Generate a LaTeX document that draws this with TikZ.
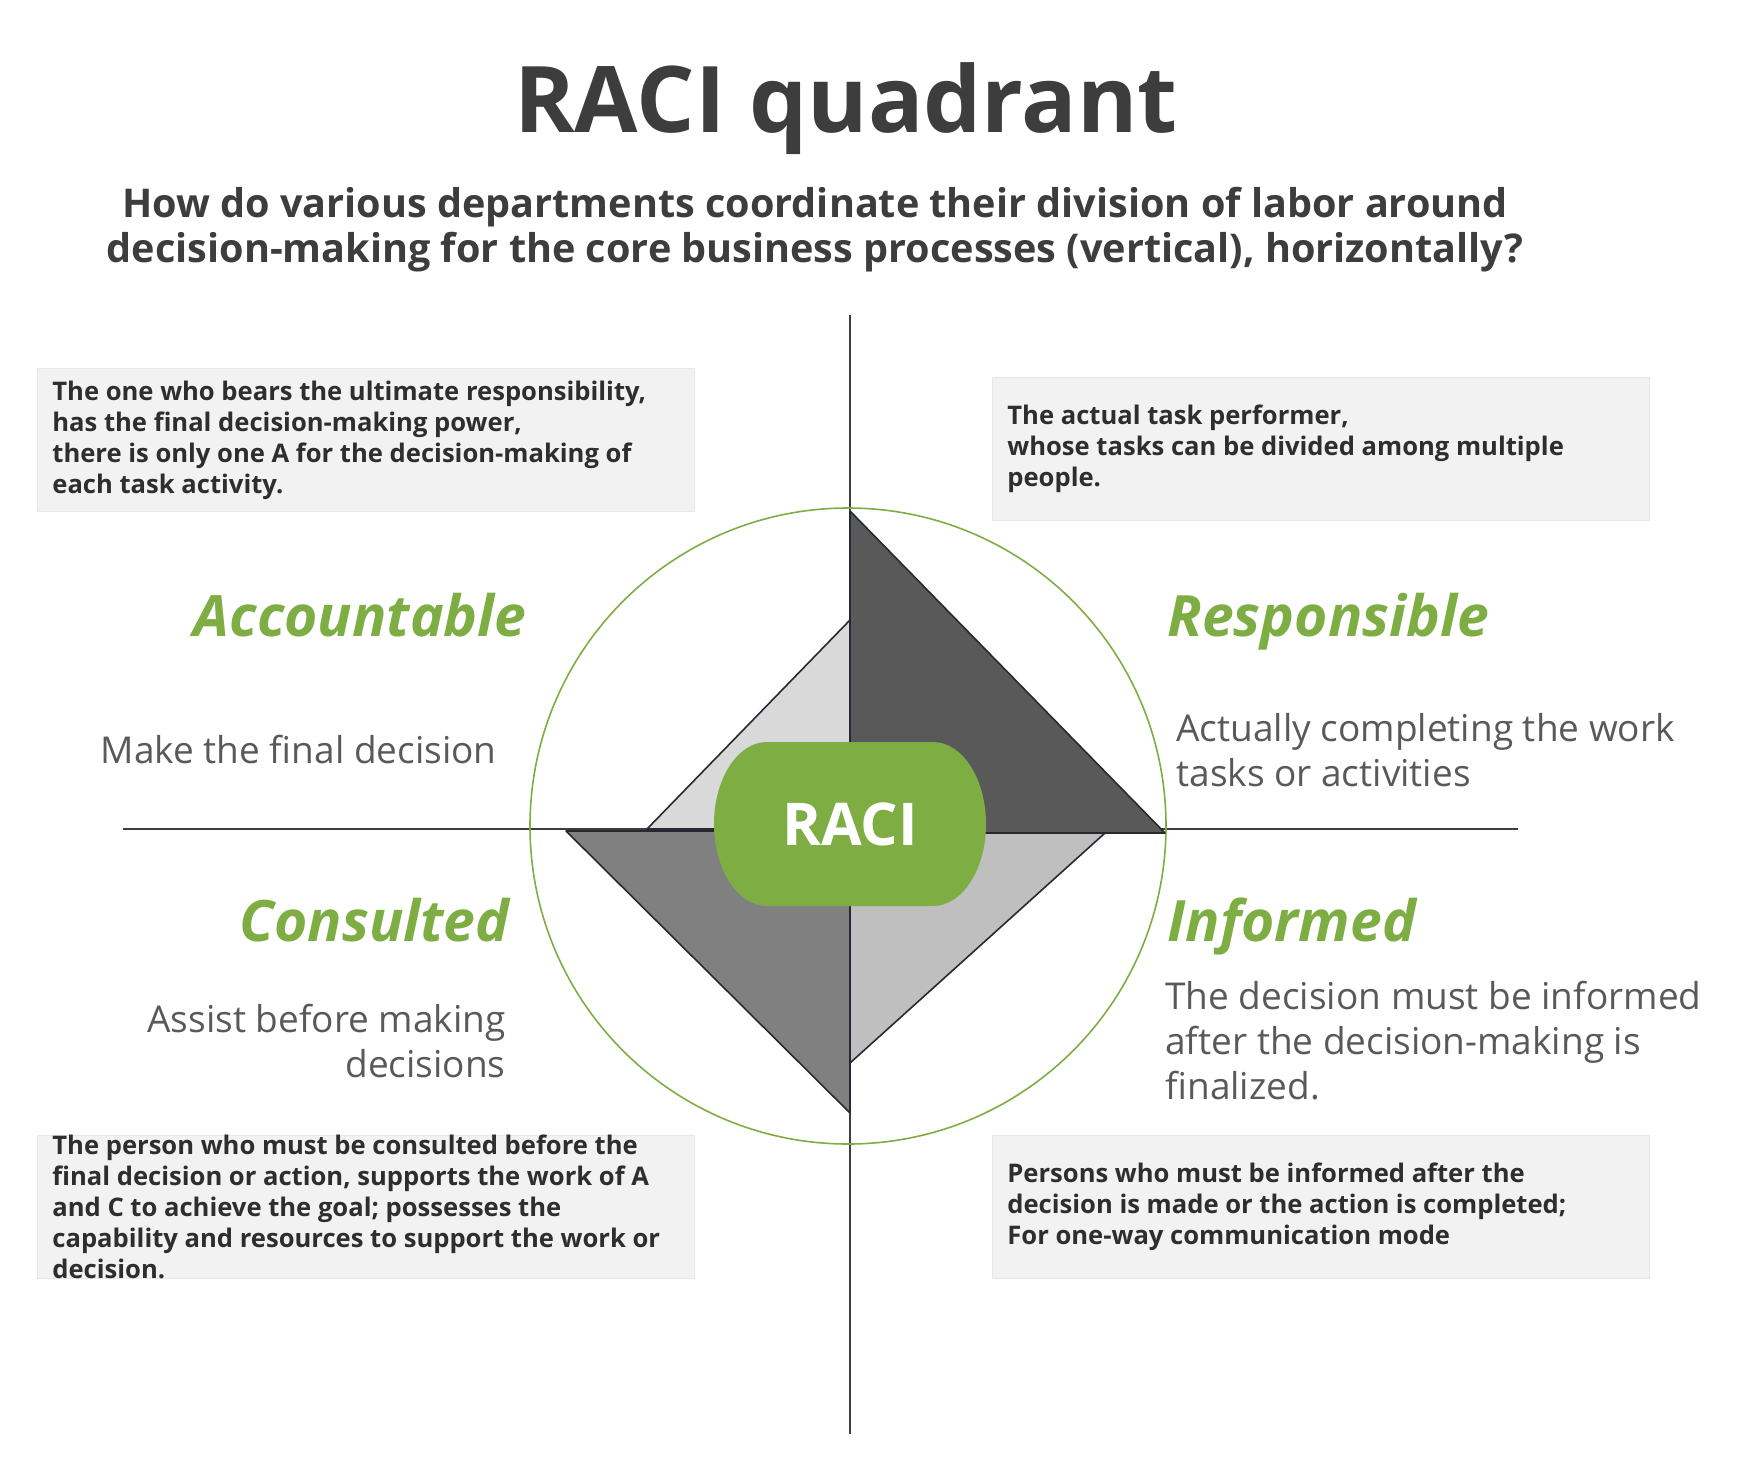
\documentclass[tikz,border=0pt]{standalone}
\usepackage{fontspec}
\setmainfont{Open Sans}
\usepackage{tikz}

\definecolor{racigreen}{HTML}{7DAD43}
\definecolor{titlegray}{HTML}{3D3D3D}
\definecolor{blurbgray}{HTML}{595959}
\definecolor{notefill}{HTML}{F2F2F2}
\definecolor{noteedge}{HTML}{E8E8E8}
\definecolor{notetextcol}{HTML}{2E2E2E}
\definecolor{edgeink}{HTML}{262A30}
\definecolor{shadeR}{HTML}{595959}
\definecolor{shadeA}{HTML}{D9D9D9}
\definecolor{shadeC}{HTML}{808080}
\definecolor{shadeI}{HTML}{BFBFBF}

\tikzset{
  heading/.style={font=\fontsize{28.5}{34}\selectfont\bfseries\itshape, text=racigreen, inner sep=0pt},
  blurb/.style={font=\fontsize{18.5}{22.3}\selectfont, text=blurbgray, inner sep=0pt},
  notebox/.style={fill=notefill, draw=noteedge, line width=0.5pt, minimum width=328.5pt, minimum height=71.5pt, inner sep=0pt, anchor=north west},
  notetext/.style={font=\fontsize{12.8}{15.5}\selectfont\bfseries, text=notetextcol, align=left, inner sep=0pt, anchor=west},
  wedge/.style={draw=edgeink, line width=0.8pt, line join=round},
  axis/.style={draw=titlegray, line width=0.8pt},
}

\begin{document}
\begin{tikzpicture}[x=0.5pt,y=-0.5pt]
  \useasboundingbox (0,0) rectangle (1750,1473);

  % heading and question (base = last line)
  \node[font=\fontsize{46}{55}\selectfont\bfseries, text=titlegray, inner sep=0pt, anchor=base] (title) at (846,132) {RACI quadrant};
  \node[font=\fontsize{19.8}{22.3}\selectfont\bfseries, text=titlegray, inner sep=0pt, align=center, anchor=base] (question) at (815,262)
    {How do various departments coordinate their division of labor around\\decision-making for the core business processes (vertical), horizontally?};

  % the two axes and the ring
  \coordinate (top) at (850,315);
  \coordinate (bottom) at (850,1434);
  \coordinate (left) at (123,829);
  \coordinate (right) at (1518,829);
  \draw[axis] (top) -- (bottom);
  \draw[axis] (left) -- (right);
  \draw[racigreen, line width=0.8pt] (848,826) circle[radius=318];

  % one triangle per role
  \filldraw[wedge, fill=shadeA] (850,620) -- (647,829) -- (850,829) -- cycle;
  \filldraw[wedge, fill=shadeC] (566,831) -- (850,831) -- (850,1113) -- cycle;
  \filldraw[wedge, fill=shadeI] (850,833) -- (1105,833) -- (850,1063) -- cycle;
  \filldraw[wedge, fill=shadeR] (850,511) -- (1165,833) -- (850,833) -- cycle;

  % green hub in the middle
  \begin{scope}[shift={(850,824)}]
    \fill[racigreen] (-83,-82) -- (83,-82)
      .. controls (112.3,-82) and (136,-45.3) .. (136,0)
      .. controls (136,45.3) and (112.3,82) .. (83,82)
      -- (-83,82)
      .. controls (-112.3,82) and (-136,45.3) .. (-136,0)
      .. controls (-136,-45.3) and (-112.3,-82) .. (-83,-82) -- cycle;
    \node[font=\fontsize{29.5}{35}\selectfont\bfseries, text=white, inner sep=0pt] (raci) at (0,0) {RACI};
  \end{scope}

  % role names
  \node[heading, anchor=base east] (acc) at (527,636) {Accountable};
  \node[heading, anchor=base west] (resp) at (1167,636) {Responsible};
  \node[heading, anchor=base east] (cons) at (510,941) {Consulted};
  \node[heading, anchor=base west] (inf) at (1167,941) {Informed};

  % short descriptions
  \node[blurb, anchor=base east] (accshort) at (497,763) {Make the final decision};
  \node[blurb, align=left, anchor=base west] (respshort) at (1176,786) {Actually completing the work\\tasks or activities};
  \node[blurb, align=right, anchor=base east] (consshort) at (506,1077) {Assist before making\\decisions};
  \node[blurb, align=left, anchor=base west] (infshort) at (1165,1099) {The decision must be informed\\after the decision-making is\\finalized.};

  % grey notes
  \node[notebox] (noteA) at (37,368) {};
  \node[notetext] (noteAtext) at ([xshift=7.5pt]noteA.west)
    {The one who bears the ultimate responsibility,\\has the final decision-making power,\\there is only one A for the decision-making of\\each task activity.};
  \node[notebox] (noteR) at (992,377) {};
  \node[notetext] (noteRtext) at ([xshift=7.5pt]noteR.west)
    {The actual task performer,\\whose tasks can be divided among multiple\\people.};
  \node[notebox] (noteC) at (37,1135) {};
  \node[notetext] (noteCtext) at ([xshift=7.5pt]noteC.west)
    {The person who must be consulted before the\\final decision or action, supports the work of A\\and C to achieve the goal; possesses the\\capability and resources to support the work or\\decision.};
  \node[notebox] (noteI) at (992,1135) {};
  \node[notetext] (noteItext) at ([xshift=7.5pt]noteI.west)
    {Persons who must be informed after the\\decision is made or the action is completed;\\For one-way communication mode};
\end{tikzpicture}
\end{document}
